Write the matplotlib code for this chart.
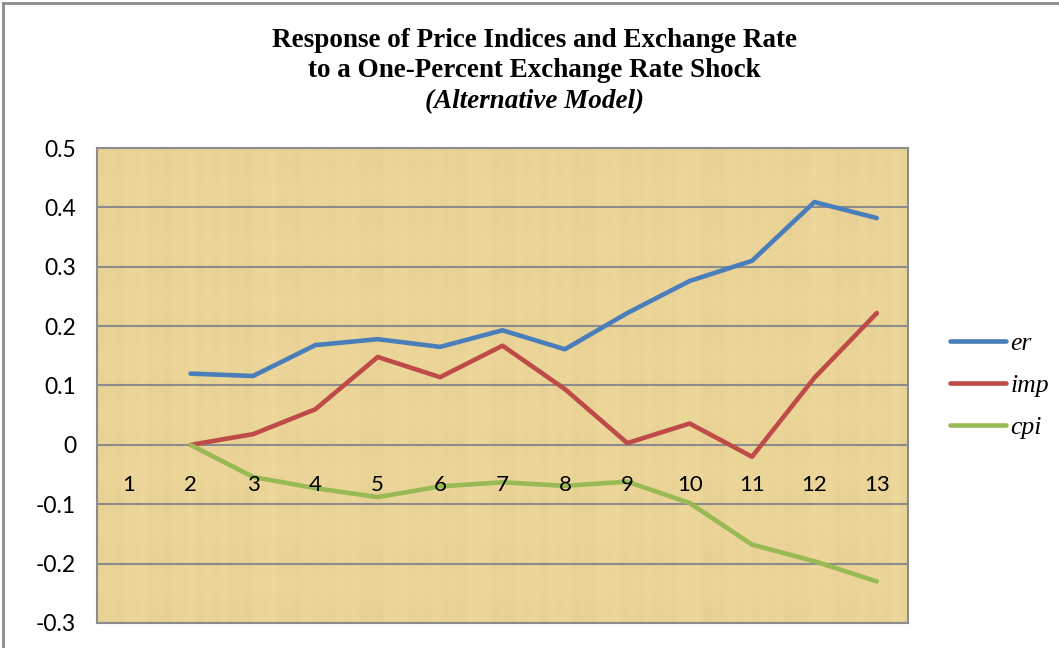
import numpy as np
import matplotlib.pyplot as plt
from matplotlib.lines import Line2D

periods = list(range(1, 14))
er = [None, 0.120, 0.116, 0.168, 0.178, 0.165, 0.193, 0.161, 0.222, 0.276, 0.310, 0.409, 0.382]
imp = [None, 0.000, 0.018, 0.060, 0.148, 0.114, 0.167, 0.094, 0.003, 0.036, -0.020, 0.113, 0.222]
cpi = [None, 0.000, -0.054, -0.073, -0.088, -0.070, -0.063, -0.069, -0.062, -0.098, -0.168, -0.196, -0.230]
series = [("er", er, "#4A7EBB"), ("imp", imp, "#BE4B48"), ("cpi", cpi, "#98B954")]
yticks = [0.5, 0.4, 0.3, 0.2, 0.1, 0, -0.1, -0.2, -0.3]

fig = plt.figure(figsize=(10.59, 6.48), dpi=100)
ax = fig.add_axes([0.0916, 0.0386, 0.7658, 0.733])

# parchment-ish background (deterministic stripes, no data)
xx = np.linspace(0, 1, 400)
tex = 0.5 + 0.25 * np.sin(xx * 97) * np.sin(xx * 23) + 0.15 * np.sin(xx * 311)
img = np.outer(0.8 + 0.2 * np.sin(xx * 53), tex)
base = np.array([238, 216, 156]) / 255
dark = np.array([224, 199, 138]) / 255
rgb = base[None, None, :] * (1 - img[..., None] * 0.6) + dark[None, None, :] * img[..., None] * 0.6
ax.imshow(rgb, extent=(0.5, 13.5, -0.3, 0.5), aspect="auto", zorder=0)

for y in yticks:
    ax.axhline(y, color="#8C8C8C", lw=1.5, zorder=1)

for name, vals, col in series:
    x = [p for p, v in zip(periods, vals) if v is not None]
    y = [v for v in vals if v is not None]
    ax.plot(x, y, color=col, lw=3.3, solid_capstyle="round", zorder=3)

ax.set_xlim(0.5, 13.5)
ax.set_ylim(-0.3, 0.5)
ax.set_xticks([])
ax.set_yticks(yticks)
ax.set_yticklabels([f"{t:g}" for t in yticks], fontfamily="Lato", fontsize=16.5)
ax.tick_params(axis="y", length=0, pad=15)
for s in ax.spines.values():
    s.set_color("#8C8C8C")
    s.set_linewidth(1.5)

# category labels sit on the zero line
for p in periods:
    ax.annotate(str(p), (p, 0), xytext=(0, -29), textcoords="offset points",
                ha="center", va="center", fontfamily="Lato", fontsize=16, zorder=4)

title_kw = dict(ha="center", va="center", fontfamily="Liberation Serif", fontweight="bold", fontsize=19.5)
fig.text(0.505, 0.938, "Response of Price Indices and Exchange Rate", **title_kw)
fig.text(0.505, 0.891, "to a One-Percent Exchange Rate Shock", **title_kw)
fig.text(0.505, 0.843, "(Alternative Model)", style="italic", **title_kw)

handles = [Line2D([], [], color=c, lw=3.3, solid_capstyle="round") for _, _, c in series]
fig.legend(handles, [n for n, _, _ in series], loc="center left", bbox_to_anchor=(0.875, 0.405),
           frameon=False, handlelength=2.2, handletextpad=0.15, labelspacing=0.75,
           prop={"family": "Liberation Serif", "style": "italic", "size": 18.5})

# outer chart border
fig.add_artist(Line2D([0.003, 0.003], [0, 0.995], color="#8C8C8C", lw=2, transform=fig.transFigure))
fig.add_artist(Line2D([0.003, 1], [0.995, 0.995], color="#8C8C8C", lw=2, transform=fig.transFigure))

fig.savefig("out.png", dpi=100)
